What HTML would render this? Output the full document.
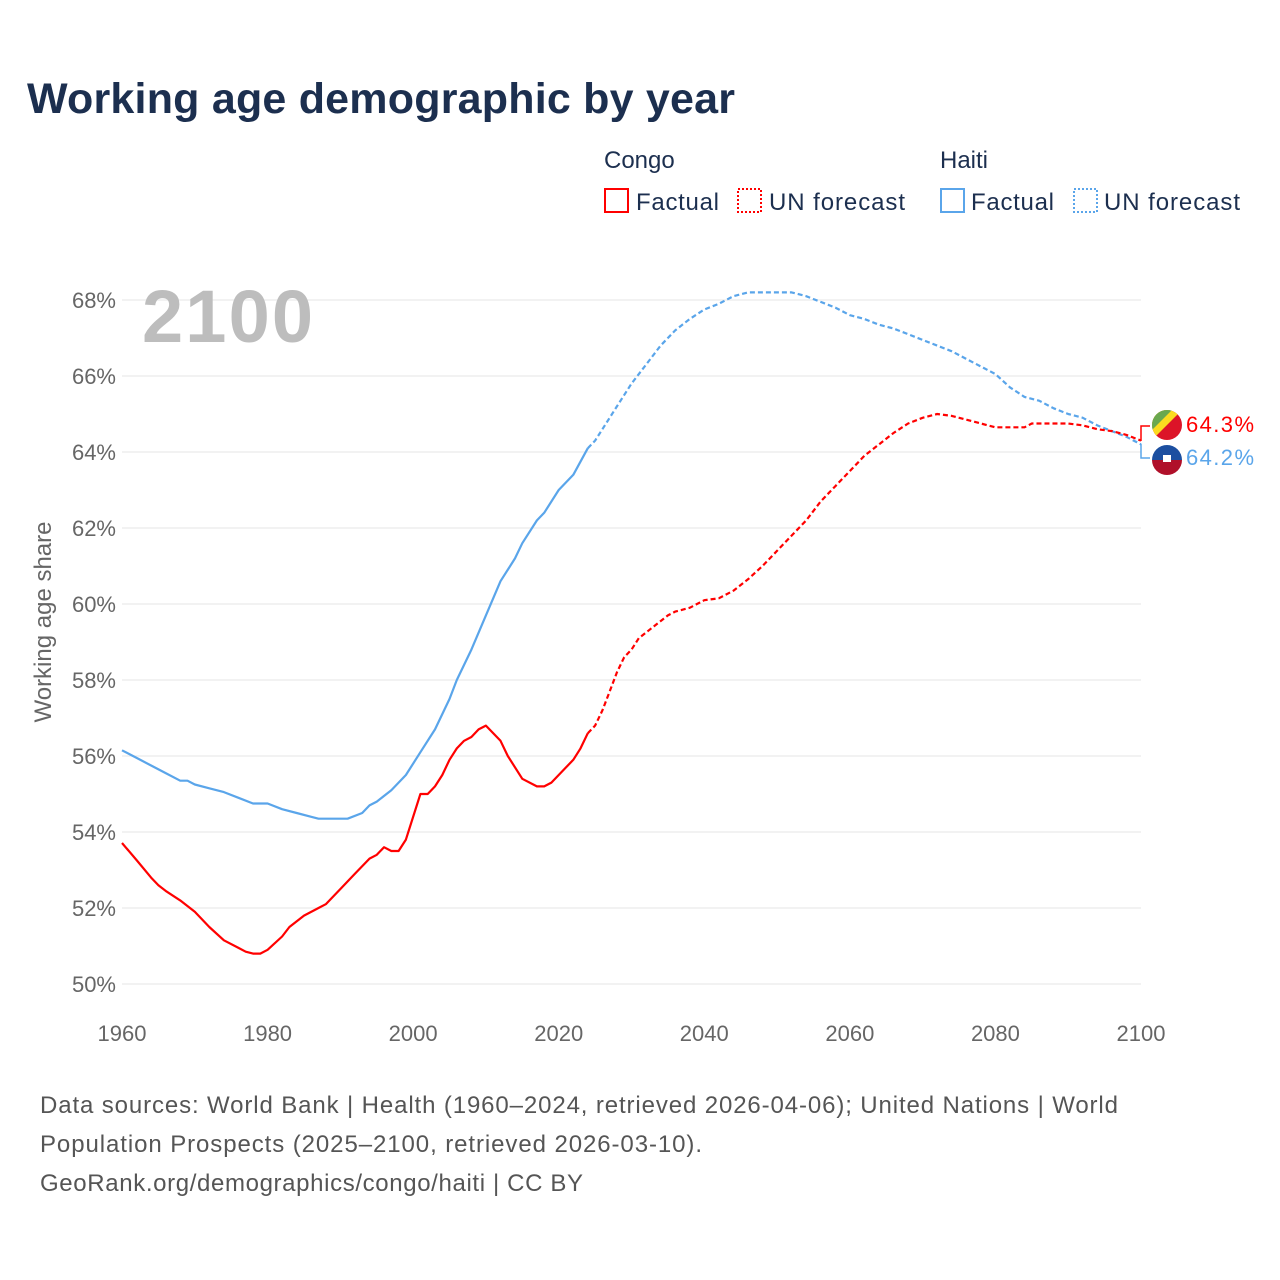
<!DOCTYPE html>
<html><head><meta charset="utf-8"><style>
body{margin:0;background:#fff;font-family:"Liberation Sans",sans-serif;}
svg{display:block}
</style></head><body>
<svg width="1280" height="1280" viewBox="0 0 1280 1280" id="chart">
<text x="27" y="113" font-size="43" font-weight="bold" fill="#1c2f4f" textLength="708">Working age demographic by year</text>
<g font-size="24" fill="#1c2f4f">
<text x="604" y="168">Congo</text>
<text x="940" y="168">Haiti</text>
<g><rect x="605" y="189" width="23" height="23" fill="none" stroke="#f00" stroke-width="2"/><text x="636" y="210" textLength="83">Factual</text></g>
<g><rect x="738" y="189" width="23" height="23" fill="none" stroke="#f00" stroke-width="2" stroke-dasharray="2,2"/><text x="769" y="210" textLength="136">UN forecast</text></g>
<g><rect x="941" y="189" width="23" height="23" fill="none" stroke="#5aa5ea" stroke-width="2"/><text x="971" y="210" textLength="83">Factual</text></g>
<g><rect x="1074" y="189" width="23" height="23" fill="none" stroke="#5aa5ea" stroke-width="2" stroke-dasharray="2,2"/><text x="1104" y="210" textLength="136">UN forecast</text></g>
</g>
<g id="grid"></g>
<text x="142" y="342" font-size="74" font-weight="bold" fill="#bdbdbd" textLength="171">2100</text>
<text transform="translate(51,622) rotate(-90)" text-anchor="middle" font-size="24" fill="#666">Working age share</text>
<g id="series"></g>
<g>
<path d="M1141 441 L1141 426 L1150 426" fill="none" stroke="#f00" stroke-width="1.5"/>
<path d="M1141 444 L1141 458 L1150 458" fill="none" stroke="#5aa5ea" stroke-width="1.5"/>
<g>
<clipPath id="c1"><circle cx="1167" cy="425" r="15"/></clipPath>
<g clip-path="url(#c1)"><rect x="1150" y="408" width="34" height="34" fill="#dc1428"/><polygon points="1150,408 1184,408 1150,442" fill="#fbdb20"/><polygon points="1150,408 1174,408 1150,432" fill="#6aa84f"/></g></g>
<g>
<clipPath id="c2"><circle cx="1167" cy="460" r="15"/></clipPath>
<g clip-path="url(#c2)"><rect x="1150" y="443" width="34" height="17" fill="#1c4fa0"/><rect x="1150" y="460" width="34" height="17" fill="#b0102a"/><rect x="1163" y="455" width="8" height="7" fill="#fff"/></g></g>
<text x="1186" y="432" font-size="22" fill="#f00" textLength="68">64.3%</text>
<text x="1186" y="465" font-size="22" fill="#5aa5ea" textLength="68">64.2%</text>
</g>
<g fill="#555">
<text x="40" y="1113" font-size="24" textLength="1078">Data sources: World Bank | Health (1960–2024, retrieved 2026-04-06); United Nations | World</text>
<text x="40" y="1152" font-size="24" textLength="662">Population Prospects (2025–2100, retrieved 2026-03-10).</text>
<text x="40" y="1191" font-size="24" textLength="543">GeoRank.org/demographics/congo/haiti | CC BY</text>
</g>
</svg>
<script>
const yTicks=[50,52,54,56,58,60,62,64,66,68];
const xTicks=[1960,1980,2000,2020,2040,2060,2080,2100];
const congoFactYears=[1960,1962,1964,1965,1966,1968,1970,1972,1974,1976,1977,1978,1979,1980,1982,1983,1985,1987,1988,1990,1992,1994,1995,1996,1997,1998,1999,2001,2002,2003,2004,2005,2006,2007,2008,2009,2010,2012,2013,2015,2017,2018,2019,2021,2022,2023,2024];
const congoFactVals=[53.71,53.26,52.8,52.6,52.45,52.2,51.9,51.5,51.15,50.95,50.85,50.8,50.8,50.9,51.25,51.5,51.8,52.0,52.1,52.5,52.9,53.3,53.4,53.6,53.5,53.5,53.8,55.0,55.0,55.2,55.5,55.9,56.2,56.4,56.5,56.7,56.8,56.4,56.0,55.4,55.2,55.2,55.3,55.7,55.9,56.2,56.6];
const congoFcYears=[2024,2025,2026,2027,2028,2029,2030,2031,2032,2033,2034,2035,2036,2038,2040,2042,2044,2046,2048,2050,2052,2054,2056,2058,2060,2062,2064,2066,2068,2070,2072,2074,2076,2078,2080,2084,2085,2090,2092,2094,2096,2098,2100];
const congoFcVals=[56.6,56.8,57.2,57.7,58.2,58.6,58.8,59.1,59.25,59.4,59.55,59.7,59.8,59.9,60.1,60.15,60.35,60.65,61.0,61.4,61.8,62.2,62.7,63.1,63.5,63.9,64.2,64.5,64.75,64.9,65.0,64.95,64.85,64.75,64.65,64.65,64.75,64.75,64.7,64.6,64.55,64.45,64.3];
const haitiFactYears=[1960,1962,1964,1966,1968,1969,1970,1972,1974,1976,1978,1980,1982,1984,1986,1987,1991,1993,1994,1995,1997,1999,2001,2003,2005,2006,2008,2010,2012,2014,2015,2017,2018,2020,2022,2024];
const haitiFactVals=[56.15,55.95,55.75,55.55,55.35,55.35,55.25,55.15,55.05,54.9,54.75,54.75,54.6,54.5,54.4,54.35,54.35,54.5,54.7,54.8,55.1,55.5,56.1,56.7,57.5,58.0,58.8,59.7,60.6,61.2,61.6,62.2,62.4,63.0,63.4,64.1];
const haitiFcYears=[2024,2025,2026,2028,2030,2032,2034,2036,2038,2040,2042,2044,2046,2048,2052,2054,2056,2058,2060,2062,2064,2066,2068,2070,2072,2074,2076,2078,2080,2082,2084,2086,2088,2090,2092,2094,2096,2098,2100];
const haitiFcVals=[64.1,64.3,64.6,65.2,65.8,66.3,66.8,67.2,67.5,67.75,67.9,68.1,68.2,68.2,68.2,68.1,67.95,67.8,67.6,67.5,67.35,67.25,67.1,66.95,66.8,66.65,66.45,66.25,66.05,65.7,65.45,65.35,65.15,65.0,64.9,64.7,64.55,64.4,64.2];
const NS="http://www.w3.org/2000/svg";
function xs(v){return 122+(v-1960)*(1141-122)/140;}
function ys(v){return 984-(v-50)*(984-300)/18;}
const grid=document.getElementById('grid');
yTicks.forEach(t=>{
 const l=document.createElementNS(NS,'line');
 l.setAttribute('x1',122);l.setAttribute('x2',1141);l.setAttribute('y1',ys(t));l.setAttribute('y2',ys(t));
 l.setAttribute('stroke','#ebebeb');l.setAttribute('stroke-width','1.3');
 
 
 grid.appendChild(l);
 const tx=document.createElementNS(NS,'text');
 tx.setAttribute('x',116);tx.setAttribute('y',ys(t)+8);tx.setAttribute('text-anchor','end');
 tx.setAttribute('font-size','22');tx.setAttribute('fill','#666');tx.textContent=t+'%';
 
 
 grid.appendChild(tx);
});
xTicks.forEach(t=>{
 const tx=document.createElementNS(NS,'text');
 tx.setAttribute('x',xs(t));tx.setAttribute('y',1041);tx.setAttribute('text-anchor','middle');
 tx.setAttribute('font-size','22');tx.setAttribute('fill','#666');tx.textContent=t;
 
 
 grid.appendChild(tx);
});
const series=document.getElementById('series');
function line(yrs,vals,color,dash,name){
 const p=document.createElementNS(NS,'path');
 p.setAttribute('d',yrs.map((y,i)=>(i?'L':'M')+xs(y).toFixed(1)+' '+ys(vals[i]).toFixed(1)).join(' '));
 p.setAttribute('fill','none');p.setAttribute('stroke',color);p.setAttribute('stroke-width','2.2');
 p.setAttribute('stroke-linejoin','round');
 if(dash)p.setAttribute('stroke-dasharray','5,3');
 
 
 series.appendChild(p);
}
line(haitiFactYears,haitiFactVals,'#5aa5ea',false,'haiti-factual-line');
line(haitiFcYears,haitiFcVals,'#5aa5ea',true,'haiti-forecast-line');
line(congoFactYears,congoFactVals,'#ff0000',false,'congo-factual-line');
line(congoFcYears,congoFcVals,'#ff0000',true,'congo-forecast-line');
</script>
</body></html>
